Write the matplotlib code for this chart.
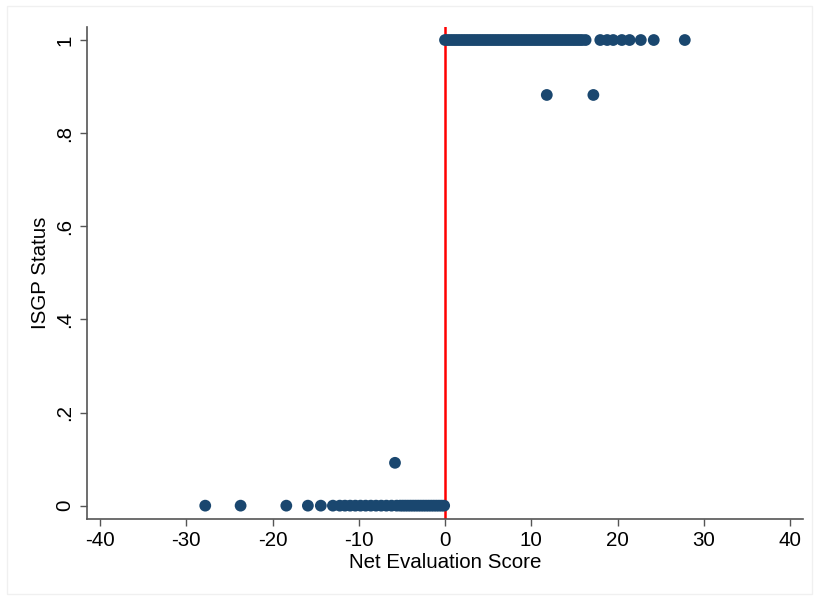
import matplotlib
matplotlib.use('Agg')
import matplotlib.pyplot as plt
from matplotlib.patches import Rectangle

# Net evaluation score vs ISGP status
top_scores = [0.0, 0.3, 0.6, 0.9, 1.2, 1.5, 1.8, 2.1, 2.4, 2.7, 3.0, 3.3, 3.6, 3.9,
              4.2, 4.5, 4.8, 5.1, 5.4, 5.7, 6.0, 6.3, 6.6, 6.9, 7.2, 7.5, 7.8, 8.1,
              8.4, 8.7, 9.0, 9.3, 9.6, 9.9, 10.2, 10.5, 10.8, 11.1, 11.4, 11.7, 12.0,
              12.3, 12.6, 12.9, 13.2, 13.5, 13.8, 14.1, 14.4, 14.7, 15.0, 15.3, 15.6,
              15.9, 16.3, 18.0, 18.8, 19.5, 20.5, 21.4, 22.7, 24.2, 27.8]
top_status = [1.0] * len(top_scores)

mid_scores = [11.8, 17.2, -5.8]
mid_status = [0.882, 0.882, 0.092]

bottom_scores = [-27.8, -23.7, -18.4, -15.9, -14.4, -13.0, -12.2, -11.6, -11.0,
                 -10.4, -9.8, -9.2, -8.6, -8.0, -7.4, -6.8, -6.2, -5.6, -5.2, -4.9,
                 -4.6, -4.3, -4.0, -3.7, -3.4, -3.1, -2.8, -2.5, -2.2, -1.9, -1.6,
                 -1.3, -1.0, -0.7, -0.4, -0.1]
bottom_status = [0.0] * len(bottom_scores)

x_ticks = [-40, -30, -20, -10, 0, 10, 20, 30, 40]
y_ticks = [0, 0.2, 0.4, 0.6, 0.8, 1]
y_tick_labels = ['0', '.2', '.4', '.6', '.8', '1']

plt.rcParams['font.family'] = ['Liberation Sans', 'DejaVu Sans']

MARKER = '#1a476f'
AXIS = '#555555'

fig = plt.figure(figsize=(8.19, 5.97), dpi=100)
fig.patches.append(Rectangle((0.008, 0.005), 0.984, 0.985, transform=fig.transFigure,
                             fill=False, edgecolor='#f0f0f0', linewidth=1))
ax = fig.add_axes([0.1059, 0.1307, 0.8742, 0.8241])

xs = bottom_scores + mid_scores + top_scores
ys = bottom_status + mid_status + top_status
ax.scatter(xs, ys, s=72, color=MARKER, edgecolors='none', zorder=3)

ax.axvline(0, color='#ff0000', linewidth=1.8, zorder=2)

ax.set_xlim(-41.54, 41.47)
ax.set_ylim(-0.0286, 1.028)

ax.set_xticks(x_ticks)
ax.set_xticklabels([str(t) for t in x_ticks])
ax.set_yticks(y_ticks)
ax.set_yticklabels(y_tick_labels, rotation=90, va='center')

for side in ['top', 'right']:
    ax.spines[side].set_visible(False)
for side in ['left', 'bottom']:
    ax.spines[side].set_color(AXIS)
    ax.spines[side].set_linewidth(1.2)

ax.tick_params(axis='both', direction='out', length=5, width=1.0, color=AXIS,
               labelsize=14.8, pad=4)

ax.set_xlabel('Net Evaluation Score', fontsize=14.8, labelpad=2)
ax.set_ylabel('ISGP Status', fontsize=14.8, labelpad=4)

plt.savefig('out.png', dpi=100)
plt.close()
